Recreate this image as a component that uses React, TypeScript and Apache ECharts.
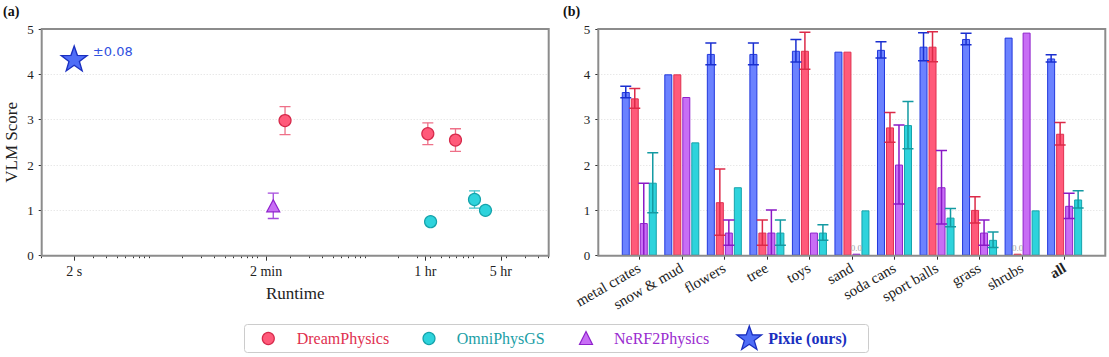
import React, { useEffect, useRef } from 'react';
import * as echarts from 'echarts';

// ---------------- data: panel (a) ----------------
const runtimeTickSeconds = [2, 120, 3600, 18000];
const runtimeTickLabels = ['2 s', '2 min', '1 hr', '5 hr'];
const runtimeMinSeconds = 1;
const runtimeMaxSeconds = 50000;

const dreamRuntime = [180, 3790, 6840];
const dreamScore = [2.98, 2.69, 2.55];
const dreamScoreErr = [0.31, 0.24, 0.25];

const omniRuntime = [4020, 10260, 12970];
const omniScore = [0.75, 1.24, 1.0];
const omniScoreErr = [0, 0.19, 0];

const nerfRuntime = [140];
const nerfScore = [1.1];
const nerfScoreErr = [0.28];

const pixieRuntime = [2];
const pixieScore = [4.35];
const pixieScoreErr = [0.08];

// ---------------- data: panel (b) ----------------
const categories = ['metal crates', 'snow & mud', 'flowers', 'tree', 'toys', 'sand', 'soda cans', 'sport balls', 'grass', 'shrubs', 'all'];
const pixieMean = [3.61, 4.0, 4.45, 4.45, 4.52, 4.5, 4.54, 4.61, 4.78, 4.81, 4.35];
const pixieErr = [0.125, 0, 0.24, 0.24, 0.25, 0, 0.18, 0.31, 0.125, 0, 0.08];
const dreamMean = [3.47, 4.0, 1.18, 0.51, 4.52, 4.5, 2.83, 4.61, 1.01, 0.0, 2.69];
const dreamErr = [0.22, 0, 0.73, 0.28, 0.41, 0, 0.33, 0.33, 0.29, 0, 0.25];
const nerfMean = [0.72, 3.5, 0.51, 0.51, 0.51, 0.0, 2.01, 1.51, 0.51, 4.92, 1.1];
const nerfErr = [0.88, 0, 0.28, 0.5, 0, 0, 0.87, 0.81, 0.28, 0, 0.28];
const omniMean = [1.61, 2.5, 1.51, 0.51, 0.51, 1.0, 2.88, 0.84, 0.35, 1.0, 1.24];
const omniErr = [0.66, 0, 0, 0.28, 0.17, 0, 0.52, 0.2, 0.17, 0, 0.19];

// ---------------- styles ----------------
const SERIF = "'Liberation Serif', 'DejaVu Serif', serif";
const COL = {
  pixie: { fill: '#6b82ff', edge: '#2238dd', err: '#1a2fd0', text: '#1a2fc0', star: '#4f6ef7' },
  dream: { fill: '#ff5a7a', edge: '#e0304f', err: '#dc2a48', light: '#ee7088', text: '#e0304f' },
  nerf: { fill: '#c86ef5', edge: '#8f22cc', err: '#8a18c6', light: '#a448dc', text: '#9a2ccf' },
  omni: { fill: '#2ed3dc', edge: '#15a3ab', err: '#139aa2', light: '#40c2ca', text: '#1a9ea6' },
};
const FRAME = '#8c8c8c';
const TICK = '#333';

function starPoints(cx: number, cy: number, R: number, r: number): number[][] {
  const pts: number[][] = [];
  for (let i = 0; i < 10; i++) {
    const rad = i % 2 === 0 ? R : r;
    const a = -Math.PI / 2 + (i * Math.PI) / 5;
    pts.push([cx + rad * Math.cos(a), cy + rad * Math.sin(a)]);
  }
  return pts;
}
const starPath =
  'path://' +
  starPoints(50, 52, 50, 20)
    .map((p, i) => (i === 0 ? 'M' : 'L') + p[0].toFixed(2) + ' ' + p[1].toFixed(2))
    .join(' ') +
  ' Z';

const lg = Math.log10;
const majorLog = runtimeTickSeconds.map(lg);
const minorLog: number[] = [];
for (let n = 0; n <= 4; n++) {
  for (let k = 1; k <= 9; k++) {
    const v = k * Math.pow(10, n);
    if (v >= runtimeMinSeconds && v <= runtimeMaxSeconds && runtimeTickSeconds.indexOf(v) < 0) minorLog.push(lg(v));
  }
}

function pts(rt: number[], sc: number[], er: number[]) {
  return rt.map((t, i) => [lg(t), sc[i], er[i]]);
}

function errRender(color: string, capHalf: number, xOffset: number, lw: number) {
  return (params: any, api: any) => {
    const x = api.value(0);
    const y = api.value(1);
    const e = api.value(2);
    if (!(e > 0)) return null;
    const lo = Math.max(0, y - e);
    const top = api.coord([x, y + e]);
    const bot = api.coord([x, lo]);
    const cx = top[0] + xOffset;
    const style = { stroke: color, lineWidth: lw };
    const children: any[] = [
      { type: 'line', shape: { x1: cx, y1: top[1], x2: cx, y2: bot[1] }, style },
      { type: 'line', shape: { x1: cx - capHalf, y1: top[1], x2: cx + capHalf, y2: top[1] }, style },
    ];
    if (y - e > 0) {
      children.push({ type: 'line', shape: { x1: cx - capHalf, y1: bot[1], x2: cx + capHalf, y2: bot[1] }, style });
    }
    return { type: 'group', children };
  };
}

const BAR_W = 8;
const BAR_GAP = 0.125;
const SLOT = BAR_W * (1 + BAR_GAP);

const barGroups = [
  { name: 'Pixie (ours)', mean: pixieMean, err: pixieErr, c: COL.pixie },
  { name: 'DreamPhysics', mean: dreamMean, err: dreamErr, c: COL.dream },
  { name: 'NeRF2Physics', mean: nerfMean, err: nerfErr, c: COL.nerf },
  { name: 'OmniPhysGS', mean: omniMean, err: omniErr, c: COL.omni },
];

const GRID_A = { left: 41.7, top: 29, width: 507, height: 226.7 };
const GRID_B = { left: 598.3, top: 29, width: 507, height: 226.7 };

function buildOption(): any {
  const axisLabelBase = { fontFamily: SERIF, fontSize: 13, color: '#222' };
  const yAxisBase = {
    type: 'value',
    min: 0,
    max: 5,
    interval: 1,
    axisLine: { show: false },
    axisTick: { show: true, length: 3, lineStyle: { color: TICK } },
    axisLabel: { ...axisLabelBase, margin: 8 },
    splitLine: { show: true, lineStyle: { color: '#dedede', type: [1, 2], width: 1 } },
  };

  const legendY = 338.5;
  const triPts = [
    [586, legendY - 7],
    [592.5, legendY + 6],
    [579.5, legendY + 6],
  ];

  const series: any[] = [
    { type: 'custom', xAxisIndex: 0, yAxisIndex: 0, renderItem: errRender(COL.dream.light, 5.5, 0, 1.3), data: pts(dreamRuntime, dreamScore, dreamScoreErr), z: 2, clip: true },
    { type: 'custom', xAxisIndex: 0, yAxisIndex: 0, renderItem: errRender(COL.omni.light, 5.5, 0, 1.3), data: pts(omniRuntime, omniScore, omniScoreErr), z: 2, clip: true },
    { type: 'custom', xAxisIndex: 0, yAxisIndex: 0, renderItem: errRender(COL.nerf.light, 5.5, 0, 1.3), data: pts(nerfRuntime, nerfScore, nerfScoreErr), z: 2, clip: true },
    {
      type: 'scatter', name: 'DreamPhysics', xAxisIndex: 0, yAxisIndex: 0, symbol: 'circle', symbolSize: 12,
      itemStyle: { color: COL.dream.fill, borderColor: '#d62a4b', borderWidth: 1.2, opacity: 1 },
      data: pts(dreamRuntime, dreamScore, dreamScoreErr), z: 3,
    },
    {
      type: 'scatter', name: 'OmniPhysGS', xAxisIndex: 0, yAxisIndex: 0, symbol: 'circle', symbolSize: 12,
      itemStyle: { color: COL.omni.fill, borderColor: COL.omni.edge, borderWidth: 1.2, opacity: 1 },
      data: pts(omniRuntime, omniScore, omniScoreErr), z: 3,
    },
    {
      type: 'scatter', name: 'NeRF2Physics', xAxisIndex: 0, yAxisIndex: 0, symbol: 'triangle', symbolSize: [13, 12],
      itemStyle: { color: COL.nerf.fill, borderColor: COL.nerf.edge, borderWidth: 1.2, opacity: 1 },
      data: pts(nerfRuntime, nerfScore, nerfScoreErr), z: 3,
    },
    {
      type: 'scatter', name: 'Pixie (ours)', xAxisIndex: 0, yAxisIndex: 0, symbol: starPath, symbolSize: [26, 25],
      itemStyle: { color: COL.pixie.star, borderColor: COL.pixie.text, borderWidth: 1.3, opacity: 1 },
      label: {
        show: true, position: 'right', distance: 5, offset: [0, -7],
        formatter: (p: any) => '\u00b1' + Number(p.value[2]).toFixed(2),
        color: '#3050e0', fontFamily: "'DejaVu Sans', sans-serif", fontSize: 13,
      },
      data: pts(pixieRuntime, pixieScore, pixieScoreErr), z: 3,
    },
  ];

  barGroups.forEach((g) => {
    series.push({
      type: 'bar', name: g.name, xAxisIndex: 3, yAxisIndex: 2,
      barWidth: BAR_W, barGap: (BAR_GAP * 100).toFixed(1) + '%', barMinHeight: 2,
      itemStyle: { color: g.c.fill, borderColor: g.c.edge, borderWidth: 1 },
      label: {
        show: true, position: 'top', distance: 1,
        formatter: (p: any) => (p.value === 0 ? '0.0' : ''),
        color: '#a0a0a0', fontFamily: SERIF, fontSize: 9,
      },
      data: g.mean, z: 2,
    });
  });
  barGroups.forEach((g, k) => {
    series.push({
      type: 'custom', xAxisIndex: 3, yAxisIndex: 2, clip: true, z: 4,
      renderItem: errRender(g.c.err, 5.5, (k - 1.5) * SLOT, 1.5),
      data: g.mean.map((m, i) => [i, m, g.err[i]]),
    });
  });

  return {
    animation: false,
    backgroundColor: '#ffffff',
    textStyle: { fontFamily: SERIF },
    grid: [
      { ...GRID_A, show: false, containLabel: false },
      { ...GRID_B, show: false, containLabel: false },
      { left: 618.0, top: 29, width: 467.9, height: 226.7, show: false, containLabel: false },
    ],
    xAxis: [
      {
        type: 'value', gridIndex: 0, position: 'bottom', min: lg(runtimeMinSeconds), max: lg(runtimeMaxSeconds),
        axisLine: { show: false }, splitLine: { show: false },
        axisTick: { show: true, customValues: majorLog, length: 5, lineStyle: { color: TICK } },
        axisLabel: {
          ...axisLabelBase, fontSize: 14, margin: 9, customValues: majorLog, showMinLabel: true, showMaxLabel: true,
          formatter: (v: number) => {
            const i = majorLog.findIndex((m) => Math.abs(m - v) < 1e-6);
            return i >= 0 ? runtimeTickLabels[i] : '';
          },
        },
        name: 'Runtime', nameLocation: 'middle', nameGap: 29,
        nameTextStyle: { fontFamily: SERIF, fontSize: 17, color: '#222' },
      },
      {
        type: 'value', gridIndex: 0, position: 'bottom', min: lg(runtimeMinSeconds), max: lg(runtimeMaxSeconds),
        axisLine: { show: false }, splitLine: { show: false }, axisLabel: { show: false },
        axisTick: { show: true, customValues: minorLog, length: 2.5, lineStyle: { color: TICK } },
      },
      { type: 'value', gridIndex: 1, min: 0, max: 1, show: false },
      {
        type: 'category', gridIndex: 2, data: categories, boundaryGap: true,
        axisLine: { show: false },
        axisTick: { show: true, alignWithLabel: true, length: 4, lineStyle: { color: TICK } },
        axisLabel: {
          ...axisLabelBase, fontSize: 15, interval: 0, rotate: 30, margin: 11,
          formatter: (v: string) => (v === 'all' ? '{b|all}' : v),
          rich: { b: { fontWeight: 'bold', fontFamily: SERIF, fontSize: 15, color: '#222' } },
        },
      },
    ],
    yAxis: [
      {
        ...yAxisBase, gridIndex: 0,
        name: 'VLM Score', nameLocation: 'middle', nameGap: 22,
        nameTextStyle: { fontFamily: SERIF, fontSize: 17, color: '#222' },
      },
      { ...yAxisBase, gridIndex: 1 },
      { type: 'value', gridIndex: 2, min: 0, max: 5, interval: 1, show: false },
    ],
    series,
    graphic: [
      { type: 'rect', z: 100, silent: true, shape: { x: GRID_A.left, y: GRID_A.top, width: GRID_A.width, height: GRID_A.height }, style: { fill: 'none', stroke: FRAME, lineWidth: 2 } },
      { type: 'rect', z: 100, silent: true, shape: { x: GRID_B.left, y: GRID_B.top, width: GRID_B.width, height: GRID_B.height }, style: { fill: 'none', stroke: FRAME, lineWidth: 2 } },
      { type: 'text', left: 3, top: 4, style: { text: '(a)', fontFamily: SERIF, fontSize: 14, fontWeight: 'bold', fill: '#111' } },
      { type: 'text', left: 563, top: 4, style: { text: '(b)', fontFamily: SERIF, fontSize: 14, fontWeight: 'bold', fill: '#111' } },
      {
        type: 'group',
        children: [
          { type: 'rect', shape: { x: 244.5, y: 324.5, width: 624, height: 28, r: 3 }, style: { fill: '#fff', stroke: '#cccccc', lineWidth: 1 } },
          { type: 'circle', shape: { cx: 268.3, cy: legendY, r: 6 }, style: { fill: COL.dream.fill, stroke: '#d62a4b', lineWidth: 1.2 } },
          { type: 'text', x: 296.7, y: legendY, style: { text: 'DreamPhysics', fontFamily: SERIF, fontSize: 16, fill: COL.dream.text, verticalAlign: 'middle', align: 'left' } },
          { type: 'circle', shape: { cx: 429, cy: legendY, r: 6 }, style: { fill: COL.omni.fill, stroke: COL.omni.edge, lineWidth: 1.2 } },
          { type: 'text', x: 456.7, y: legendY, style: { text: 'OmniPhysGS', fontFamily: SERIF, fontSize: 16, fill: COL.omni.text, verticalAlign: 'middle', align: 'left' } },
          { type: 'polygon', shape: { points: triPts }, style: { fill: COL.nerf.fill, stroke: COL.nerf.edge, lineWidth: 1.2 } },
          { type: 'text', x: 614, y: legendY, style: { text: 'NeRF2Physics', fontFamily: SERIF, fontSize: 16, fill: COL.nerf.text, verticalAlign: 'middle', align: 'left' } },
          { type: 'polygon', shape: { points: starPoints(749.3, legendY + 0.5, 13, 5.2) }, style: { fill: COL.pixie.star, stroke: COL.pixie.text, lineWidth: 1.3 } },
          { type: 'text', x: 768.3, y: legendY, style: { text: 'Pixie (ours)', fontFamily: SERIF, fontSize: 16, fontWeight: 'bold', fill: COL.pixie.text, verticalAlign: 'middle', align: 'left' } },
        ],
      },
    ],
  };
}

export default function App() {
  const ref = useRef<HTMLDivElement>(null);
  useEffect(() => {
    if (!ref.current) return;
    const chart = echarts.init(ref.current, null, { renderer: 'svg' });
    chart.setOption(buildOption());
    return () => chart.dispose();
  }, []);
  return <div ref={ref} style={{ position: 'absolute', left: 0, top: 0, width: 1109, height: 357 }} />;
}
